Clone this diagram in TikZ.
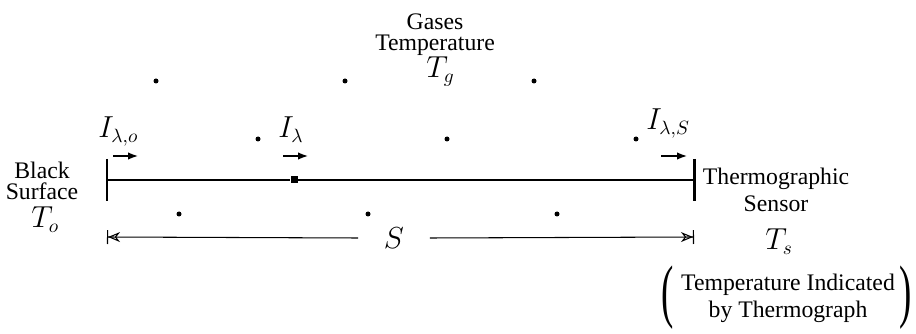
\documentclass[tikz,border=0pt]{standalone}
\usepackage{fontspec}
\setmainfont{Liberation Serif}
\usetikzlibrary{arrows.meta,positioning}
\begin{document}
\begin{tikzpicture}[x=0.02cm,y=-0.02cm,
lbl/.style={align=center,inner sep=0pt,font=\fontsize{13.5}{12}\selectfont},
lblwide/.style={lbl,font=\fontsize{13.5}{15.3}\selectfont},
sym/.style={inner sep=0pt,anchor=base west,font=\fontsize{16}{18}\selectfont},
paren/.style={inner sep=0pt,font=\fontsize{14}{17}\selectfont},
gasdot/.style={circle,fill,inner sep=0pt,minimum size=0.1cm},
probe/.style={fill,inner sep=0pt,minimum size=0.14cm},
beam/.style={line width=1.5pt},
wall/.style={line width=1.7pt},
flux/.style={-{Latex[length=2mm,width=1.5mm]},line width=0.85pt},
dimline/.style={line width=0.6pt}]
\useasboundingbox (0,0) rectangle (916,334);
% ends of the path
\coordinate (src) at (107,180);\coordinate (srctop) at (107,159);\coordinate (srcbot) at (107,201);
\coordinate (snr) at (694,180);\coordinate (snrtop) at (694,159);\coordinate (snrbot) at (694,201);
\node[probe] at (294,180)(pt){};
\draw[wall](srctop)--(srcbot);\draw[wall](snrtop)--(snrbot);
\draw[beam](src)--(pt)--(snr);
% gas particles
\foreach \dx in {0,189,378}{
\node[gasdot] at (156+\dx,81){};
\node[gasdot] at (258+\dx,139){};
\node[gasdot] at (179+\dx,214){};}
% intensities
\node[sym] at (98,138)(io){$I_{\lambda,o}$};
\node[sym] at (278,138)(il){$I_{\lambda}$};
\node[sym] at (646,130)(is){$I_{\lambda,S}$};
\coordinate (a1) at (113,156);\coordinate (b1) at (138,156);
\coordinate (a2) at (283,156);\coordinate (b2) at (308,156);
\coordinate (a3) at (661,156);\coordinate (b3) at (687,156);
\draw[flux](a1)--(b1);\draw[flux](a2)--(b2);\draw[flux](a3)--(b3);
% labels
\node[lbl] at (435,35)(gas){Gases\\Temperature};
\node[sym] at (426,78)(tg){$T_g$};
\node[lbl] at (42,181)(black){Black\\Surface};
\node[sym] at (31,228)(to){$T_o$};
\node[lblwide] at (776,190)(sensor){Thermographic\\Sensor};
\node[sym] at (765,250)(ts){$T_s$};
\node[lblwide] at (788,298)(ind){Temperature Indicated\\by Thermograph};
\node[paren,left=4pt of ind](lp){\scalebox{1.5}[2.85]{(}};
\node[paren,right=2pt of ind](rp){\scalebox{1.5}[2.85]{)}};
% path length
\coordinate (dl) at (107,237);\coordinate (dr) at (694,237);
\node[inner sep=0pt,minimum width=1.42cm,font=\fontsize{16}{18}\selectfont] at (394,238)(len){$S$};
\draw[dimline,{Bar[width=2.8mm]Stealth[open,length=2.4mm,width=2mm]}-](dl)--(len.west);
\draw[dimline,-{Stealth[open,length=2.4mm,width=2mm]Bar[width=2.8mm]}](len.east)--(dr);
\end{tikzpicture}
\end{document}
